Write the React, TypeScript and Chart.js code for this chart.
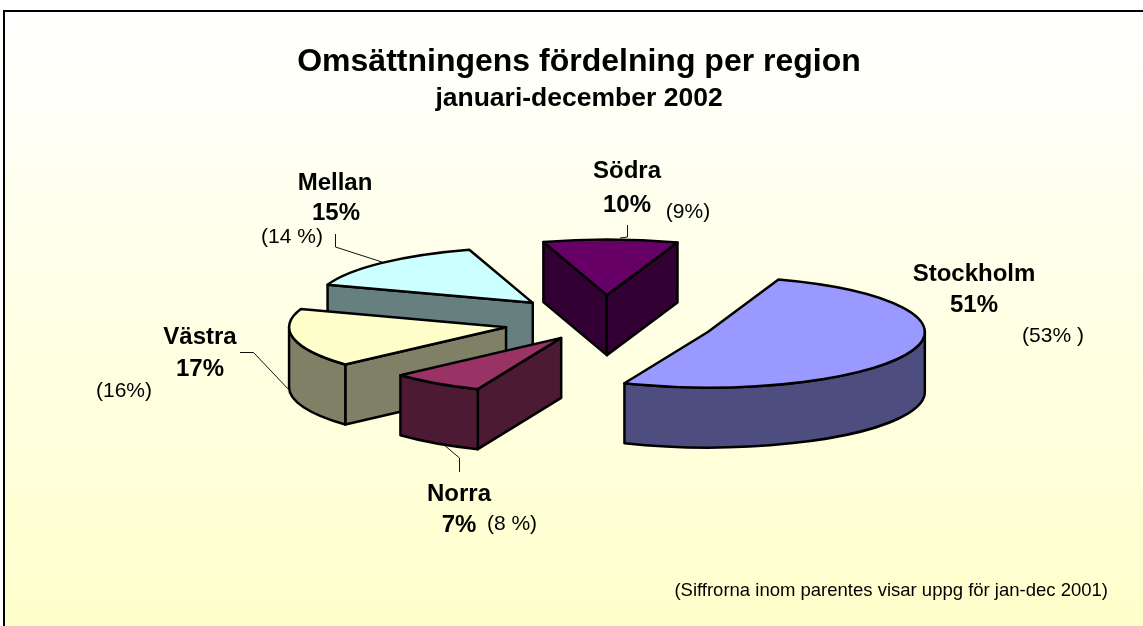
import React, { useEffect, useRef } from "react";
import { Chart, registerables } from "chart.js";

Chart.register(...registerables);

const FONT = "'Liberation Sans', Arial, sans-serif";

// --- data -------------------------------------------------------------
const regions = ["Stockholm", "Norra", "Västra", "Mellan", "Södra"];
const shares2002 = [51, 7, 17, 15, 10];
const labels2002 = ["51%", "7%", "17%", "15%", "10%"];
const labels2001 = ["(53% )", "(8 %)", "(16%)", "(14 %)", "(9%)"];
const titleText = "Omsättningens fördelning per region";
const subtitleText = "januari-december 2002";
const footnoteText = "(Siffrorna inom parentes visar uppg för jan-dec 2001)";

// --- styling ----------------------------------------------------------
const topColors = ["#9999FF", "#993366", "#FFFFCC", "#CCFFFF", "#660066"];
const wallColors = ["#4D4D80", "#4D1A33", "#808066", "#668080", "#330033"];
const explode = [110, 76, 101, 104, 105];
const drawOrder = [4, 3, 2, 0, 1];

// --- layout -----------------------------------------------------------
const PIE_X = 605;
const PIE_Y = 322;
const RADIUS = 217;
const SQUASH = 0.256;
const DEPTH = 60;

const namePos = [[974, 274], [459, 494], [200, 337], [335, 183], [627, 171]];
const sharePos = [[974, 305], [459, 525], [200, 369], [336, 213], [627, 205]];
const prevPos = [[1053, 336], [512, 524], [124, 391], [292, 237], [688, 212]];
const leaders = [
  [[335.5, 234], [335.5, 247], [382, 262]],
  [[240, 352.5], [253.5, 352.5], [291, 392]],
  [[459.5, 472], [459.5, 458], [443, 444]],
  [[627.5, 225], [627.5, 237], [620, 238]],
];

const pie3d = {
  id: "pie3d",
  afterLayout(chart: any) {
    const a = chart.chartArea;
    a.left = PIE_X - 500;
    a.right = PIE_X + 500;
    a.top = PIE_Y - 300;
    a.bottom = PIE_Y + 300;
    a.width = 1000;
    a.height = 600;
  },
  beforeDraw(chart: any) {
    const { ctx, width, height } = chart;
    ctx.save();
    const g = ctx.createLinearGradient(0, 11, 0, height);
    g.addColorStop(0, "#FFFFFF");
    g.addColorStop(1, "#FFFFCC");
    ctx.fillStyle = g;
    ctx.fillRect(4, 11, width - 4, height - 11);
    ctx.fillStyle = "#000";
    ctx.fillRect(3, 10, width - 3, 2);
    ctx.fillRect(3, 10, 2, height - 10);
    ctx.restore();
  },
  beforeDatasetDraw(chart: any, args: any) {
    const { ctx } = chart;
    const arcs = args.meta.data;
    for (const i of drawOrder) {
      const arc = arcs[i];
      const a0 = arc.startAngle;
      const a1 = arc.endAngle;
      const mid = (a0 + a1) / 2;
      const o = explode[i];
      const r = arc.outerRadius;
      const tx = arc.x + Math.cos(mid) * o;
      const ty = arc.y + Math.sin(mid) * o * SQUASH;
      const pt = (a: number) => [tx + r * Math.cos(a), ty + r * SQUASH * Math.sin(a)];

      ctx.save();
      ctx.lineWidth = 2.5;
      ctx.lineJoin = "round";
      ctx.strokeStyle = "#000";
      ctx.fillStyle = wallColors[i];

      const quad = (a: number) => {
        const p = pt(a);
        ctx.beginPath();
        ctx.moveTo(tx, ty);
        ctx.lineTo(p[0], p[1]);
        ctx.lineTo(p[0], p[1] + DEPTH);
        ctx.lineTo(tx, ty + DEPTH);
        ctx.closePath();
        ctx.fill();
        ctx.stroke();
      };
      if (Math.sin(a0 - Math.PI / 2) > 0) quad(a0);
      if (Math.sin(a1 + Math.PI / 2) > 0) quad(a1);

      const lo = Math.max(a0, 0);
      const hi = Math.min(a1, Math.PI);
      if (hi > lo) {
        ctx.beginPath();
        ctx.ellipse(tx, ty, r, r * SQUASH, 0, lo, hi);
        ctx.ellipse(tx, ty + DEPTH, r, r * SQUASH, 0, hi, lo, true);
        ctx.closePath();
        ctx.fill();
        ctx.stroke();
      }

      // top face: the library's own arc, moved out and flattened
      ctx.save();
      ctx.translate(tx, ty);
      ctx.scale(1, SQUASH);
      ctx.translate(-arc.x, -arc.y);
      arc.draw(ctx, chart.chartArea);
      ctx.restore();

      ctx.beginPath();
      ctx.moveTo(tx, ty);
      ctx.ellipse(tx, ty, r, r * SQUASH, 0, a0, a1);
      ctx.closePath();
      ctx.stroke();
      ctx.restore();
    }
    return false;
  },
  afterDraw(chart: any) {
    const { ctx } = chart;
    ctx.save();
    ctx.strokeStyle = "#111";
    ctx.lineWidth = 1;
    for (const l of leaders) {
      ctx.beginPath();
      l.forEach((p, k) => (k ? ctx.lineTo(p[0], p[1]) : ctx.moveTo(p[0], p[1])));
      ctx.stroke();
    }
    ctx.fillStyle = "#000";
    ctx.textAlign = "center";
    ctx.textBaseline = "middle";
    regions.forEach((name, i) => {
      ctx.font = `bold 24px ${FONT}`;
      ctx.fillText(name, namePos[i][0], namePos[i][1]);
      ctx.fillText(labels2002[i], sharePos[i][0], sharePos[i][1]);
      ctx.font = `21px ${FONT}`;
      ctx.fillText(labels2001[i], prevPos[i][0], prevPos[i][1]);
    });
    ctx.font = `18.5px ${FONT}`;
    ctx.textAlign = "right";
    ctx.fillText(footnoteText, 1108, 591);
    ctx.restore();
  },
};

export default function App() {
  const ref = useRef<HTMLCanvasElement>(null);
  useEffect(() => {
    document.body.style.margin = "0";
    const chart = new Chart(ref.current as HTMLCanvasElement, {
      type: "pie",
      data: {
        labels: regions,
        datasets: [
          {
            data: shares2002,
            backgroundColor: topColors,
            borderWidth: 0,
            radius: RADIUS,
            clip: false,
          } as any,
        ],
      },
      options: {
        responsive: false,
        animation: false,
        events: [],
        rotation: 19,
        layout: { padding: { left: 15, top: 43 } },
        plugins: {
          legend: { display: false },
          tooltip: { enabled: false },
          title: {
            display: true,
            text: titleText,
            color: "#000",
            font: { family: FONT, size: 32, weight: "bold", lineHeight: 1.2 },
            padding: { top: 0, bottom: 1 },
          },
          subtitle: {
            display: true,
            text: subtitleText,
            color: "#000",
            font: { family: FONT, size: 26.5, weight: "bold", lineHeight: 1.2 },
            padding: { top: 0, bottom: 0 },
          },
        },
      } as any,
      plugins: [pie3d as any],
    });
    return () => chart.destroy();
  }, []);
  return <canvas ref={ref} width={1143} height={626} style={{ display: "block" }} />;
}
